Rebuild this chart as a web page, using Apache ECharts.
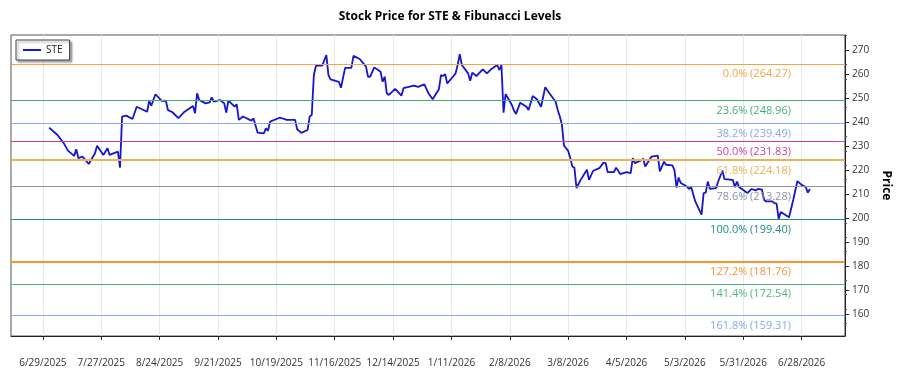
<!DOCTYPE html>
<html>
<head>
<meta charset="utf-8">
<title>STE Fibonacci</title>
<script src="https://cdn.jsdelivr.net/npm/echarts@6/dist/echarts.min.js"></script>
<style>
  html, body { margin: 0; padding: 0; background: #fff; }
  #chart { width: 900px; height: 375px; }
</style>
</head>
<body>
<div id="chart"></div>
<script>
// closing prices
var dates = [
  "2025-07-02","2025-07-06","2025-07-09","2025-07-11","2025-07-14","2025-07-15","2025-07-16","2025-07-18",
  "2025-07-21","2025-07-24","2025-07-25","2025-07-28","2025-07-30","2025-07-31","2025-08-04","2025-08-05",
  "2025-08-06","2025-08-08","2025-08-11","2025-08-13","2025-08-18","2025-08-19","2025-08-20","2025-08-22",
  "2025-08-25","2025-08-27","2025-08-28","2025-08-30","2025-09-02","2025-09-05","2025-09-09","2025-09-10",
  "2025-09-11","2025-09-12","2025-09-15","2025-09-17","2025-09-18","2025-09-19","2025-09-22","2025-09-24",
  "2025-09-25","2025-09-26","2025-09-29","2025-09-30","2025-10-01","2025-10-03","2025-10-07","2025-10-08",
  "2025-10-10","2025-10-13","2025-10-14","2025-10-15","2025-10-16","2025-10-20","2025-10-21","2025-10-24",
  "2025-10-28","2025-10-29","2025-10-31","2025-11-03","2025-11-04","2025-11-05","2025-11-06","2025-11-07",
  "2025-11-10","2025-11-12","2025-11-13","2025-11-14","2025-11-18","2025-11-19","2025-11-21","2025-11-24",
  "2025-11-25","2025-11-28","2025-12-01","2025-12-02","2025-12-03","2025-12-05","2025-12-08","2025-12-09",
  "2025-12-10","2025-12-11","2025-12-12","2025-12-15","2025-12-18","2025-12-19","2025-12-24","2025-12-26",
  "2025-12-29","2025-12-31","2026-01-02","2026-01-05","2026-01-06","2026-01-07","2026-01-08","2026-01-09",
  "2026-01-12","2026-01-13","2026-01-14","2026-01-15","2026-01-16","2026-01-19","2026-01-20","2026-01-21",
  "2026-01-23","2026-01-26","2026-01-28","2026-01-30","2026-02-02","2026-02-03","2026-02-04","2026-02-05",
  "2026-02-06","2026-02-09","2026-02-10","2026-02-11","2026-02-13","2026-02-16","2026-02-17","2026-02-19",
  "2026-02-21","2026-02-23","2026-02-25","2026-02-27","2026-03-02","2026-03-03","2026-03-04","2026-03-05",
  "2026-03-06","2026-03-08","2026-03-09","2026-03-10","2026-03-11","2026-03-12","2026-03-14","2026-03-17",
  "2026-03-18","2026-03-20","2026-03-23","2026-03-25","2026-03-26","2026-03-27","2026-03-30","2026-03-31",
  "2026-04-02","2026-04-05","2026-04-07","2026-04-08","2026-04-09","2026-04-12","2026-04-13","2026-04-14",
  "2026-04-17","2026-04-20","2026-04-21","2026-04-23","2026-04-24","2026-04-27","2026-04-28","2026-04-29",
  "2026-04-30","2026-05-01","2026-05-04","2026-05-05","2026-05-06","2026-05-08","2026-05-11","2026-05-12",
  "2026-05-13","2026-05-14","2026-05-15","2026-05-18","2026-05-19","2026-05-21","2026-05-22","2026-05-26",
  "2026-05-27","2026-05-28","2026-05-29","2026-06-02","2026-06-04","2026-06-06","2026-06-07","2026-06-09",
  "2026-06-10","2026-06-11","2026-06-14","2026-06-15","2026-06-16","2026-06-17","2026-06-18","2026-06-22",
  "2026-06-24","2026-06-26","2026-06-28","2026-06-30","2026-07-01","2026-07-02"
];
var prices = [
  237.7,234.6,231.2,228.1,225.9,228.7,225.0,225.6,
  222.5,227.0,230.1,226.3,229.1,226.3,227.7,221.0,
  242.3,242.7,241.3,246.4,244.3,248.8,246.8,251.6,
  248.8,248.9,245.0,244.2,241.6,244.3,246.7,243.7,
  252.0,249.2,247.8,248.2,250.3,248.5,249.2,247.8,
  243.9,248.9,246.4,247.4,240.9,242.3,240.6,241.6,
  235.6,235.3,237.4,236.4,240.2,241.6,241.8,240.9,
  240.9,237.0,235.5,236.7,242.3,243.0,259.6,263.5,
  263.5,267.9,259.6,257.8,256.8,254.3,262.6,262.6,
  267.6,266.3,263.1,258.9,258.9,262.8,261.0,256.8,
  258.9,252.0,251.3,253.8,251.0,254.1,255.2,254.7,
  255.7,252.0,249.5,253.7,259.6,259.2,260.0,256.1,
  259.2,260.3,263.8,268.3,263.8,260.3,257.2,260.6,
  259.2,262.0,260.3,262.0,263.8,261.7,263.8,243.9,
  251.7,247.1,244.8,243.4,248.1,246.4,245.0,250.9,
  249.5,246.4,254.5,252.0,248.5,245.0,242.3,239.0,
  230.2,228.0,225.0,221.5,221.0,212.5,215.9,220.1,
  215.9,219.7,220.8,223.1,222.9,219.1,219.1,221.0,
  218.3,219.1,218.7,225.0,222.9,224.0,224.7,221.5,
  225.6,226.0,219.4,223.5,222.2,221.9,220.1,212.7,
  216.9,214.6,213.1,212.1,212.9,206.9,201.4,210.4,
  210.6,215.2,212.1,212.5,215.2,219.8,216.2,215.9,
  212.9,215.2,212.9,210.4,212.1,211.5,212.1,211.8,
  207.6,206.9,206.9,206.2,206.0,199.6,202.5,200.3,
  207.6,215.4,213.8,212.9,210.6,212.1
];

var fibPercents = ["0.0%", "23.6%", "38.2%", "50.0%", "61.8%", "78.6%", "100.0%", "127.2%", "141.4%", "161.8%"];
var fibValues = [264.27, 248.96, 239.49, 231.83, 224.18, 213.28, 199.40, 181.76, 172.54, 159.31];
var fibColors = ["#f3a445", "#45ad74", "#86a9ea", "#cf3f9c", "#e9b252", "#8a93a0", "#1e8c8c", "#f6952f", "#55b67c", "#86a9ea"];
var fibWidths = [1.2, 1.2, 1.2, 1.2, 2, 1.2, 1.2, 2, 1.2, 1.2];

var xTickLabels = ["6/29/2025", "7/27/2025", "8/24/2025", "9/21/2025", "10/19/2025", "11/16/2025", "12/14/2025",
  "1/11/2026", "2/8/2026", "3/8/2026", "4/5/2026", "5/3/2026", "5/31/2026", "6/28/2026"];
var yTicks = [160, 170, 180, 190, 200, 210, 220, 230, 240, 250, 260, 270];

function parseMDY(s) {
  var p = s.split("/");
  return new Date(+p[2], +p[0] - 1, +p[1]).getTime();
}
function parseISO(s) {
  var p = s.split("-");
  return new Date(+p[0], +p[1] - 1, +p[2]).getTime();
}
var DAY = 86400000;
var xTicks = xTickLabels.map(parseMDY);

var chart = echarts.init(document.getElementById("chart"));

var lineData = dates.map(function (d, i) {
  return [parseISO(d), prices[i]];
});

var fibLines = fibValues.map(function (v, i) {
  return {
    yAxis: v,
    lineStyle: { color: fibColors[i], width: fibWidths[i], type: "solid", opacity: 1 },
    label: {
      show: true,
      position: "insideEndBottom",
      formatter: fibPercents[i] + " (" + v.toFixed(2) + ")",
      color: fibColors[i],
      fontSize: 11,
      fontFamily: "Open Sans",
      padding: [0, 49, 0, 0]
    }
  };
});

chart.setOption({
  animation: false,
  title: {
    text: "Stock Price for STE & Fibunacci Levels",
    left: "center",
    top: 6,
    textStyle: { fontSize: 12, fontWeight: "bold", color: "#000", fontFamily: "Open Sans" }
  },
  legend: {
    left: 16,
    top: 40,
    icon: "rect",
    itemWidth: 18,
    itemHeight: 2,
    itemGap: 4,
    padding: [5, 7, 5, 7],
    borderColor: "#444",
    borderWidth: 1,
    borderRadius: 0,
    backgroundColor: "#fff",
    shadowColor: "rgba(0,0,0,0.35)",
    shadowBlur: 2,
    shadowOffsetX: 2,
    shadowOffsetY: 2,
    textStyle: { fontSize: 10, color: "#222", fontFamily: "Open Sans" },
    data: ["STE"]
  },
  grid: {
    left: 11,
    right: 42,
    top: 35,
    bottom: 39,
    show: true,
    borderColor: "#555",
    borderWidth: 1
  },
  xAxis: {
    type: "value",
    min: xTicks[0] - 15.3 * DAY,
    max: xTicks[xTicks.length - 1] + 20.8 * DAY,
    axisLine: { show: true, lineStyle: { color: "#222", width: 1 } },
    axisTick: { show: true, length: 4, lineStyle: { color: "#222" }, customValues: xTicks },
    axisLabel: {
      customValues: xTicks,
      margin: 22,
      fontSize: 10,
      color: "#333",
      fontFamily: "Open Sans",
      formatter: function (val) {
        var d = new Date(val);
        return (d.getMonth() + 1) + "/" + d.getDate() + "/" + d.getFullYear();
      }
    },
    splitLine: { show: true, lineStyle: { color: "#e6e8ec", width: 1 } }
  },
  yAxis: {
    type: "value",
    position: "right",
    min: 150.8,
    max: 276.3,
    name: "Price",
    nameLocation: "middle",
    nameRotate: -90,
    nameGap: 30,
    nameTextStyle: { fontSize: 12, fontWeight: "bold", color: "#000", fontFamily: "Open Sans" },
    axisLine: { show: true, lineStyle: { color: "#222", width: 1 } },
    axisTick: { show: true, length: 4, lineStyle: { color: "#222" }, customValues: yTicks },
    minorTick: { show: true, splitNumber: 5, length: 2, lineStyle: { color: "#444" } },
    axisLabel: { customValues: yTicks, margin: 7, fontSize: 10, color: "#333", fontFamily: "Open Sans" },
    splitLine: { show: false }
  },
  series: [
    {
      name: "STE",
      type: "line",
      data: lineData,
      showSymbol: false,
      symbol: "none",
      color: "#1414d2",
      lineStyle: { color: "#1414d2", width: 1.8 },
      markLine: {
        silent: true,
        symbol: ["none", "none"],
        animation: false,
        data: fibLines
      }
    }
  ]
});
</script>
</body>
</html>
